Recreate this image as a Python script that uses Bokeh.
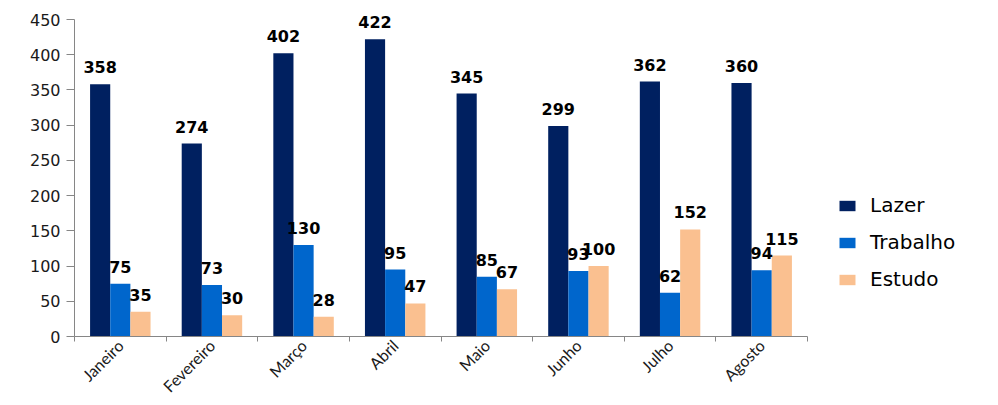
from bokeh.plotting import figure
from bokeh.models import (ColumnDataSource, FixedTicker, Legend, LegendItem,
                          LabelSet, Range1d)
from bokeh.core.properties import value
from bokeh.embed import file_html
from bokeh.resources import INLINE
import math

months = ["Janeiro", "Fevereiro", "Março", "Abril", "Maio", "Junho", "Julho", "Agosto"]
lazer = [358, 274, 402, 422, 345, 299, 362, 360]
trabalho = [75, 73, 130, 95, 85, 93, 62, 94]
estudo = [35, 30, 28, 47, 67, 100, 152, 115]
series_names = ["Lazer", "Trabalho", "Estudo"]
colors = ["#002060", "#0066CC", "#FAC090"]
y_ticks = [0, 50, 100, 150, 200, 250, 300, 350, 400, 450]

BW = 0.22
offsets = [-BW, 0.0, BW]

# layout: plot frame spans to the right edge so the legend can sit in it;
# the axis line is bounded to the category span
LEFT = 74
WIDTH = 998
CAT_PX = 91.625
x_end = (WIDTH - LEFT) / CAT_PX

p = figure(width=WIDTH, height=405, output_backend="svg", toolbar_location=None,
           x_range=Range1d(0, x_end), y_range=Range1d(0, 460),
           min_border_left=LEFT, min_border_right=0, min_border_top=12,
           min_border_bottom=69)
p.outline_line_color = None
p.xgrid.visible = False
p.ygrid.visible = False
p.background_fill_color = "white"
p.border_fill_color = "white"

renderers = []
for name, vals, col, off in zip(series_names, [lazer, trabalho, estudo], colors, offsets):
    xs = [i + 0.5 + off for i in range(len(months))]
    src = ColumnDataSource(dict(x=xs, top=vals, text=[str(v) for v in vals]))
    r = p.vbar(x="x", top="top", width=BW, source=src, fill_color=col, line_color=None)
    renderers.append(r)
    labels = LabelSet(x="x", y="top", text="text", source=src, y_offset=11,
                      text_align="center", text_baseline="alphabetic",
                      text_font=value("DejaVu Sans"), text_font_style="bold",
                      text_font_size="16px", text_color="black")
    p.add_layout(labels)

# Axes
centers = [i + 0.5 for i in range(len(months))]
bounds = [float(i) for i in range(len(months) + 1)]
p.xaxis.ticker = FixedTicker(ticks=centers, minor_ticks=bounds)
p.xaxis.bounds = (0, len(months))
p.xaxis.major_label_overrides = {c: m for c, m in zip(centers, months)}
p.xaxis.major_label_orientation = math.pi / 4
p.xaxis.major_tick_out = 0
p.xaxis.major_tick_in = 0
p.xaxis.minor_tick_out = 5
p.xaxis.minor_tick_in = 0
p.xaxis.minor_tick_line_color = "#868686"
p.xaxis.axis_line_color = "#868686"
p.xaxis.major_label_text_font = "Lato"
p.xaxis.major_label_text_font_size = "16px"
p.xaxis.major_label_text_color = "#1a1a1a"
p.xaxis.major_label_standoff = 1

p.yaxis.ticker = FixedTicker(ticks=y_ticks)
p.yaxis.bounds = (0, 450)
p.yaxis.major_tick_out = 8
p.yaxis.major_tick_in = 0
p.yaxis.minor_tick_out = 0
p.yaxis.minor_tick_in = 0
p.yaxis.major_tick_line_color = "#868686"
p.yaxis.axis_line_color = "#868686"
p.yaxis.major_label_text_font = "DejaVu Sans"
p.yaxis.major_label_text_font_size = "16px"
p.yaxis.major_label_text_color = "#1a1a1a"
p.yaxis.major_label_standoff = 6

legend = Legend(items=[LegendItem(label=n, renderers=[r]) for n, r in zip(series_names, renderers)],
                location=(763, 45), orientation="vertical",
                glyph_width=20, glyph_height=13, label_standoff=13,
                label_text_font="DejaVu Sans", label_text_font_size="20px",
                label_text_color="black", spacing=13, padding=0, margin=0,
                border_line_color=None, background_fill_alpha=0)
p.add_layout(legend, "center")

open("out.html", "w").write(file_html(p, INLINE))
